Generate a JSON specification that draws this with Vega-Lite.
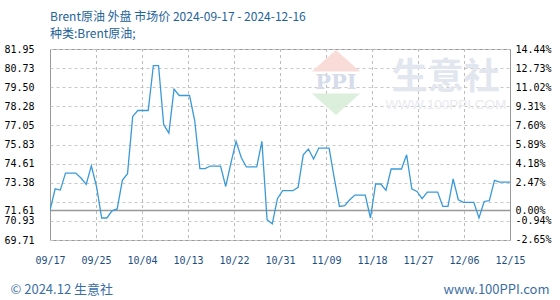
{
  "$schema": "https://vega.github.io/schema/vega-lite/v6.json",
  "autosize": "none",
  "width": 460,
  "height": 191,
  "padding": {"left": 50, "top": 49, "right": 50, "bottom": 60},
  "background": "white",
  "title": {
    "text": "Brent原油 外盘 市场价 2024-09-17 - 2024-12-16",
    "subtitle": "种类:Brent原油;",
    "anchor": "start",
    "frame": "group",
    "font": "Noto Sans CJK SC",
    "fontSize": 12,
    "fontWeight": "normal",
    "color": "#23639b",
    "subtitleFont": "Noto Sans CJK SC",
    "subtitleFontSize": 12,
    "subtitleColor": "#23639b",
    "subtitlePadding": 5,
    "offset": 3
  },
  "data": {
    "values": [
      {"date": "2024-09-17", "price": 71.61},
      {"date": "2024-09-18", "price": 72.99},
      {"date": "2024-09-19", "price": 72.91},
      {"date": "2024-09-20", "price": 74.00},
      {"date": "2024-09-21", "price": 74.00},
      {"date": "2024-09-22", "price": 74.00},
      {"date": "2024-09-23", "price": 73.68},
      {"date": "2024-09-24", "price": 73.27},
      {"date": "2024-09-25", "price": 74.47},
      {"date": "2024-09-26", "price": 73.14},
      {"date": "2024-09-27", "price": 71.12},
      {"date": "2024-09-28", "price": 71.12},
      {"date": "2024-09-29", "price": 71.58},
      {"date": "2024-09-30", "price": 71.70},
      {"date": "2024-10-01", "price": 73.53},
      {"date": "2024-10-02", "price": 73.96},
      {"date": "2024-10-03", "price": 77.63},
      {"date": "2024-10-04", "price": 78.01},
      {"date": "2024-10-05", "price": 78.01},
      {"date": "2024-10-06", "price": 78.01},
      {"date": "2024-10-07", "price": 80.89},
      {"date": "2024-10-08", "price": 80.89},
      {"date": "2024-10-09", "price": 77.10},
      {"date": "2024-10-10", "price": 76.56},
      {"date": "2024-10-11", "price": 79.38},
      {"date": "2024-10-12", "price": 78.97},
      {"date": "2024-10-13", "price": 78.97},
      {"date": "2024-10-14", "price": 78.97},
      {"date": "2024-10-15", "price": 77.35},
      {"date": "2024-10-16", "price": 74.28},
      {"date": "2024-10-17", "price": 74.28},
      {"date": "2024-10-18", "price": 74.45},
      {"date": "2024-10-19", "price": 74.45},
      {"date": "2024-10-20", "price": 74.45},
      {"date": "2024-10-21", "price": 73.14},
      {"date": "2024-10-22", "price": 74.64},
      {"date": "2024-10-23", "price": 76.03},
      {"date": "2024-10-24", "price": 75.00},
      {"date": "2024-10-25", "price": 74.39},
      {"date": "2024-10-26", "price": 74.39},
      {"date": "2024-10-27", "price": 74.39},
      {"date": "2024-10-28", "price": 76.03},
      {"date": "2024-10-29", "price": 71.01},
      {"date": "2024-10-30", "price": 70.75},
      {"date": "2024-10-31", "price": 72.36},
      {"date": "2024-11-01", "price": 72.87},
      {"date": "2024-11-02", "price": 72.87},
      {"date": "2024-11-03", "price": 72.87},
      {"date": "2024-11-04", "price": 73.08},
      {"date": "2024-11-05", "price": 75.17},
      {"date": "2024-11-06", "price": 75.54},
      {"date": "2024-11-07", "price": 74.90},
      {"date": "2024-11-08", "price": 75.60},
      {"date": "2024-11-09", "price": 75.60},
      {"date": "2024-11-10", "price": 75.60},
      {"date": "2024-11-11", "price": 73.68},
      {"date": "2024-11-12", "price": 71.86},
      {"date": "2024-11-13", "price": 71.91},
      {"date": "2024-11-14", "price": 72.29},
      {"date": "2024-11-15", "price": 72.59},
      {"date": "2024-11-16", "price": 72.59},
      {"date": "2024-11-17", "price": 72.59},
      {"date": "2024-11-18", "price": 71.12},
      {"date": "2024-11-19", "price": 73.30},
      {"date": "2024-11-20", "price": 73.30},
      {"date": "2024-11-21", "price": 72.89},
      {"date": "2024-11-22", "price": 74.26},
      {"date": "2024-11-23", "price": 74.26},
      {"date": "2024-11-24", "price": 74.26},
      {"date": "2024-11-25", "price": 75.17},
      {"date": "2024-11-26", "price": 72.99},
      {"date": "2024-11-27", "price": 72.82},
      {"date": "2024-11-28", "price": 72.36},
      {"date": "2024-11-29", "price": 72.78},
      {"date": "2024-11-30", "price": 72.78},
      {"date": "2024-12-01", "price": 72.78},
      {"date": "2024-12-02", "price": 71.86},
      {"date": "2024-12-03", "price": 71.86},
      {"date": "2024-12-04", "price": 73.62},
      {"date": "2024-12-05", "price": 72.29},
      {"date": "2024-12-06", "price": 72.12},
      {"date": "2024-12-07", "price": 72.12},
      {"date": "2024-12-08", "price": 72.12},
      {"date": "2024-12-09", "price": 71.12},
      {"date": "2024-12-10", "price": 72.18},
      {"date": "2024-12-11", "price": 72.23},
      {"date": "2024-12-12", "price": 73.53},
      {"date": "2024-12-13", "price": 73.42},
      {"date": "2024-12-14", "price": 73.42},
      {"date": "2024-12-15", "price": 73.42}
    ]
  },
  "layer": [
    {
      "data": {"values": [{"tick": 1727300160000}, {"tick": 1728069120000}, {"tick": 1728838080000}, {"tick": 1729607040000}, {"tick": 1730376000000}, {"tick": 1731144960000}, {"tick": 1731913920000}, {"tick": 1732682880000}, {"tick": 1733451840000}]},
      "mark": {"type": "rule", "color": "#bcbcbc", "strokeWidth": 1, "strokeDash": [3, 3], "xOffset": 0.5},
      "encoding": {
        "x": {"field": "tick", "type": "temporal", "axis": null}
      }
    },
    {
      "mark": {"type": "line", "color": "#3a9ad9", "strokeWidth": 1.3, "clip": true},
      "encoding": {
        "x": {
          "field": "date",
          "type": "temporal",
          "scale": {"type": "utc", "domain": [1726531200000, 1734220800000]},
          "axis": {
            "orient": "bottom",
            "values": [1726531200000, 1727300160000, 1728069120000, 1728838080000, 1729607040000, 1730376000000, 1731144960000, 1731913920000, 1732682880000, 1733451840000, 1734220800000],
            "format": "%m/%d",
            "labelFont": "DejaVu Sans Mono",
            "labelFontSize": 10,
            "labelColor": "#1b4f80",
            "labelPadding": 15,
            "labelOverlap": false,
            "labelFlush": false,
            "labelBound": false,
            "ticks": false,
            "tickSize": 0,
            "domain": false,
            "grid": false,
            "title": null
          }
        },
        "y": {
          "field": "price",
          "type": "quantitative",
          "scale": {"domain": [69.71, 81.9505], "zero": false, "nice": false},
          "axis": {
            "orient": "left",
            "values": [69.71, 70.934, 71.61, 72.158, 73.382, 74.606, 75.83, 77.054, 78.278, 79.502, 80.726, 81.95],
            "labelExpr": "abs(datum.value - 72.158) < 0.001 ? '' : format(datum.value, '.2f')",
            "labelFont": "DejaVu Sans Mono",
            "labelFontSize": 10,
            "labelPadding": 16,
            "labelAlign": "right",
            "labelBaseline": "middle",
            "labelOverlap": false,
            "labelBound": false,
            "labelFlush": false,
            "ticks": false,
            "tickSize": 0,
            "domain": false,
            "grid": true,
            "gridColor": {"condition": {"test": "abs(datum.value - 71.61) < 0.001", "value": "#999999"}, "value": "#c8c8c8"},
            "gridDash": {"condition": {"test": "abs(datum.value - 71.61) < 0.001", "value": []}, "value": [3, 3]},
            "gridWidth": {"condition": {"test": "abs(datum.value - 71.61) < 0.001", "value": 1.6}, "value": 1},
            "encode": {"labels": {"update": {"fill": [{"test": "datum.value > 71.62", "value": "#ff3333"}, {"test": "datum.value < 71.6", "value": "#33aa33"}, {"value": "#000000"}]}}},
            "title": "© 2024.12 生意社",
            "titleAngle": 0,
            "titleAlign": "left",
            "titleBaseline": "middle",
            "titleX": -40,
            "titleY": 240,
            "titleFont": "Noto Sans CJK SC",
            "titleFontSize": 13,
            "titleFontWeight": "normal",
            "titleColor": "#3b6ea5"
          }
        }
      }
    },
    {
      "data": {"values": [{}]},
      "mark": {"type": "text", "text": "生意社", "font": "Noto Sans CJK SC", "fontSize": 36, "fontWeight": "bold", "color": "#e2e6ee", "align": "center", "baseline": "middle"},
      "encoding": {
        "x": {"datum": 1733148000000, "type": "temporal", "axis": null},
        "y": {
          "datum": 80.11,
          "type": "quantitative",
          "axis": {
            "orient": "right",
            "values": [69.712335, 70.936866, 71.61, 73.378767, 74.603298, 75.827829, 77.05236, 78.276891, 79.501422, 80.725953, 81.950484],
            "labelExpr": "replace(format((datum.value/71.61-1)*100, '.2f'), '\u2212', '-') + '%'",
            "labelFont": "DejaVu Sans Mono",
            "labelFontSize": 10,
            "labelPadding": 5,
            "labelAlign": "left",
            "labelBaseline": "middle",
            "ticks": false,
            "tickSize": 0,
            "domain": false,
            "grid": false,
            "labelOverlap": false,
            "labelBound": false,
            "labelFlush": false,
            "encode": {"labels": {"update": {"fill": [{"test": "datum.value > 71.62", "value": "#ff3333"}, {"test": "datum.value < 71.6", "value": "#33aa33"}, {"value": "#000000"}]}}},
            "title": "www.100PPI.com",
            "titleAngle": 0,
            "titleAlign": "right",
            "titleBaseline": "middle",
            "titleX": 39,
            "titleY": 240,
            "titleFont": "Noto Sans CJK SC",
            "titleFontSize": 13,
            "titleFontWeight": "normal",
            "titleColor": "#3b6ea5"
          }
        }
      }
    },
    {
      "data": {"values": [{}]},
      "mark": {"type": "text", "text": "WWW.100PPI.COM", "font": "Liberation Sans", "fontSize": 13.5, "color": "#e8eaee", "align": "center", "baseline": "middle"},
      "encoding": {
        "x": {"datum": 1733148000000, "type": "temporal", "axis": null},
        "y": {"datum": 78.35, "type": "quantitative", "axis": null}
      }
    },
    {
      "data": {"values": [{}]},
      "mark": {"type": "point", "shape": "M0,-0.45L1,0.45L-1,0.45Z", "size": 2304, "filled": true, "color": "#f9dcd8", "opacity": 1},
      "encoding": {
        "x": {"datum": 1731312000000, "type": "temporal", "axis": null},
        "y": {"datum": 81.2, "type": "quantitative", "axis": null}
      }
    },
    {
      "data": {"values": [{}]},
      "mark": {"type": "point", "shape": "M-1,-0.45L1,-0.45L0,0.45Z", "size": 2304, "filled": true, "color": "#dcefdc", "opacity": 1},
      "encoding": {
        "x": {"datum": 1731312000000, "type": "temporal", "axis": null},
        "y": {"datum": 78.41, "type": "quantitative", "axis": null}
      }
    },
    {
      "data": {"values": [{}]},
      "mark": {"type": "text", "text": "PPI", "font": "DejaVu Serif", "fontSize": 21, "fontWeight": "bold", "color": "#d6dcea", "align": "center", "baseline": "middle"},
      "encoding": {
        "x": {"datum": 1731312000000, "type": "temporal", "axis": null},
        "y": {"datum": 79.79, "type": "quantitative", "axis": null}
      }
    }
  ],
  "resolve": {"axis": {"x": "independent", "y": "independent"}},
  "config": {
    "view": {"stroke": "#999999", "strokeWidth": 1}
  }
}
